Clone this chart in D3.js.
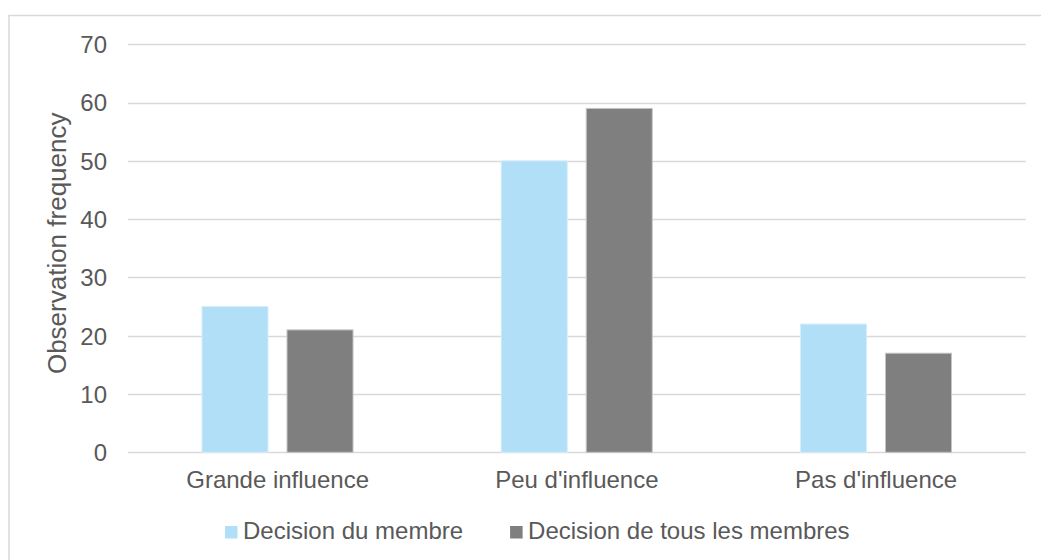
<!DOCTYPE html>
<html>
<head>
<meta charset="utf-8">
<script src="https://cdn.jsdelivr.net/npm/d3@7"></script>
<style>
  html, body { margin: 0; padding: 0; background: #ffffff; }
  svg { display: block; font-family: "Liberation Sans", Arial, sans-serif; }
</style>
</head>
<body>
<svg id="chart" width="1041" height="560"></svg>
<script>
// Categories, series and axis ticks
const categories = ["Grande influence", "Peu d'influence", "Pas d'influence"];
const seriesNames = ["Decision du membre", "Decision de tous les membres"];
const membreValues = [25, 50, 22];
const tousValues = [21, 59, 17];
const yTicks = [0, 10, 20, 30, 40, 50, 60, 70];
const yTitle = "Observation frequency";

const seriesColors = ["#B0DFF7", "#7F7F7F"];
const seriesStrokes = ["#d4eefb", "#c4c4c4"];
const textColor = "#595959";
const gridColor = "#d9d9d9";

const rows = categories.map((c, i) => ({
  category: c,
  values: [
    { series: seriesNames[0], value: membreValues[i] },
    { series: seriesNames[1], value: tousValues[i] }
  ]
}));

const svg = d3.select("#chart");

// Chart frame (only top and left edges fall inside the view)
svg.append("rect")
  .attr("x", 9).attr("y", 15.5)
  .attr("width", 1100).attr("height", 600)
  .attr("fill", "none")
  .attr("stroke", gridColor)
  .attr("stroke-width", 1.5);

const plot = { left: 128, right: 1025.7, top: 44.3, bottom: 452.3 };

const x0 = d3.scaleBand()
  .domain(categories)
  .range([plot.left, plot.right])
  .paddingInner(0).paddingOuter(0);

const bw = x0.bandwidth();
const x1 = d3.scaleBand()
  .domain(seriesNames)
  .range([bw * 0.2473, bw * 0.7520])
  .paddingInner(0.2235).paddingOuter(0);

const y = d3.scaleLinear()
  .domain([0, 70])
  .range([plot.bottom, plot.top]);

const color = d3.scaleOrdinal().domain(seriesNames).range(seriesColors);
const strokeColor = d3.scaleOrdinal().domain(seriesNames).range(seriesStrokes);

// Horizontal gridlines
svg.append("g")
  .selectAll("line")
  .data(yTicks)
  .join("line")
  .attr("x1", plot.left).attr("x2", plot.right)
  .attr("y1", d => Math.round(y(d)) + 0.5)
  .attr("y2", d => Math.round(y(d)) + 0.5)
  .attr("stroke", gridColor)
  .attr("stroke-width", 1.3);

// Y axis tick labels
const yAxis = d3.axisLeft(y).tickValues(yTicks).tickSize(0).tickPadding(0);
const yAxisG = svg.append("g")
  .attr("transform", `translate(107,0)`)
  .call(yAxis);
yAxisG.select(".domain").remove();
yAxisG.selectAll("text")
  .attr("fill", textColor)
  .attr("font-size", 24)
  .attr("font-family", "Liberation Sans, Arial, sans-serif")
  .attr("dy", "0.35em");

// Y axis title
svg.append("text")
  .attr("transform", `translate(66,${(plot.top + plot.bottom) / 2 - 5}) rotate(-90)`)
  .attr("text-anchor", "middle")
  .attr("font-size", 26)
  .attr("fill", textColor)
  .text(yTitle);

// Bars
const groups = svg.append("g")
  .selectAll("g")
  .data(rows)
  .join("g")
  .attr("transform", d => `translate(${x0(d.category)},0)`);

groups.selectAll("rect")
  .data(d => d.values)
  .join("rect")
  .attr("x", d => x1(d.series))
  .attr("width", x1.bandwidth())
  .attr("y", d => y(d.value))
  .attr("height", d => y(0) - y(d.value))
  .attr("fill", d => color(d.series))
  .attr("stroke", d => strokeColor(d.series))
  .attr("stroke-width", 1);

// Category labels
const xAxis = d3.axisBottom(x0).tickSize(0).tickPadding(0);
const xAxisG = svg.append("g")
  .attr("transform", `translate(0,488)`)
  .call(xAxis);
xAxisG.select(".domain").remove();
xAxisG.selectAll("text")
  .attr("fill", textColor)
  .attr("font-size", 24)
  .attr("font-family", "Liberation Sans, Arial, sans-serif")
  .attr("dy", 0);

// Legend
const legend = svg.append("g").attr("transform", "translate(0,539)");
let lx = 225;
seriesNames.forEach((name, i) => {
  legend.append("rect")
    .attr("x", lx).attr("y", -13)
    .attr("width", 12.5).attr("height", 12.5)
    .attr("fill", color(name));
  const t = legend.append("text")
    .attr("x", lx + 18).attr("y", 0)
    .attr("font-size", 24)
    .attr("fill", textColor)
    .text(name);
  lx += 18 + t.node().getComputedTextLength() + 47;
});
</script>
</body>
</html>
